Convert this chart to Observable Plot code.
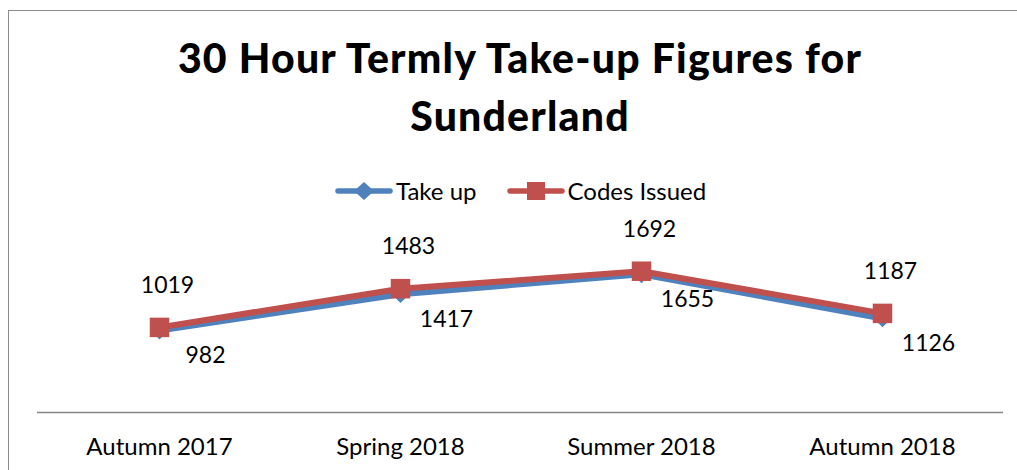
<!DOCTYPE html>
<html>
<head>
<meta charset="utf-8">
<script src="https://cdn.jsdelivr.net/npm/d3@7"></script>
<script src="https://cdn.jsdelivr.net/npm/@observablehq/plot@0.6"></script>
<style>
  html, body { margin: 0; padding: 0; background: #fff; }
  body { width: 1017px; height: 470px; position: relative; overflow: hidden; font-family: Lato, "Open Sans", sans-serif; }
  #frame { position: absolute; left: 8px; top: 10px; width: 1100px; height: 500px; border-left: 1.5px solid #8c8c8c; border-top: 1.5px solid #8c8c8c; }
  #title { position: absolute; left: 0; width: 1040px; top: 29px; text-align: center; font-weight: 900; font-size: 41px; letter-spacing: 1.2px; line-height: 58px; color: #000; }
  #legend { position: absolute; top: 176px; left: 335px; font-size: 24px; color: #000; display: flex; align-items: center; white-space: nowrap; }
  #legend .item { display: flex; align-items: center; margin-right: 30px; }
  #legend svg { margin-right: 3px; }
  #chart { position: absolute; left: 0; top: 0; }
</style>
</head>
<body>
<div id="frame"></div>
<div id="title">30 Hour Termly Take-up Figures for<br>Sunderland</div>
<div id="legend"></div>
<div id="chart"></div>
<script>
const terms = ["Autumn 2017", "Spring 2018", "Summer 2018", "Autumn 2018"];
const takeUp = [982, 1417, 1655, 1126];
const codesIssued = [1019, 1483, 1692, 1187];
const seriesNames = ["Take up", "Codes Issued"];
const colors = ["#4f81bd", "#c0504d"];

const rowsTake = terms.map((t, i) => ({term: t, value: takeUp[i]}));
const rowsCodes = terms.map((t, i) => ({term: t, value: codesIssued[i]}));

// Legend
const legend = document.getElementById("legend");
seriesNames.forEach((name, i) => {
  const item = document.createElement("div");
  item.className = "item";
  const sym = i === 0
    ? `<path d="M29,-9 L39,0 L29,9 L19,0 Z" fill="${colors[0]}"/>`
    : `<rect x="20" y="-9" width="18" height="18" fill="${colors[1]}"/>`;
  item.innerHTML = `<svg width="58" height="20" viewBox="0 -10 58 20"><line x1="3" x2="55" y1="0" y2="0" stroke="${colors[i]}" stroke-width="5.5" stroke-linecap="round"/>${sym}</svg><span>${name}</span>`;
  legend.appendChild(item);
});

const chart = Plot.plot({
  width: 1017,
  height: 470,
  marginLeft: 37,
  marginRight: 14,
  marginTop: 245,
  marginBottom: 58,
  style: {background: "transparent", fontFamily: "Lato, 'Open Sans', sans-serif", overflow: "visible"},
  x: {type: "point", domain: terms, padding: 0.5, label: null},
  y: {domain: [0, 2000], axis: null},
  marks: [
    Plot.ruleY([0], {stroke: "#868686", strokeWidth: 1.5}),
    Plot.axisX({tickSize: 0, tickPadding: 25, fontSize: 24, fill: "#000", label: null}),
    Plot.line(rowsTake, {x: "term", y: "value", stroke: colors[0], strokeWidth: 6, strokeLinejoin: "round"}),
    Plot.dot(rowsTake, {x: "term", y: "value", symbol: "diamond2", r: 8, fill: colors[0], stroke: "none"}),
    Plot.line(rowsCodes, {x: "term", y: "value", stroke: colors[1], strokeWidth: 6, strokeLinejoin: "round"}),
    Plot.dot(rowsCodes, {x: "term", y: "value", symbol: "square", r: 11, fill: colors[1], stroke: "none"}),
    Plot.text(rowsCodes, {x: "term", y: "value", text: d => String(d.value), dx: 8, dy: -42, fontSize: 23, fill: "#000"}),
    Plot.text(rowsTake, {x: "term", y: "value", text: d => String(d.value), dx: 46, dy: 25, fontSize: 23, fill: "#000"})
  ]
});
document.getElementById("chart").appendChild(chart);
</script>
</body>
</html>
